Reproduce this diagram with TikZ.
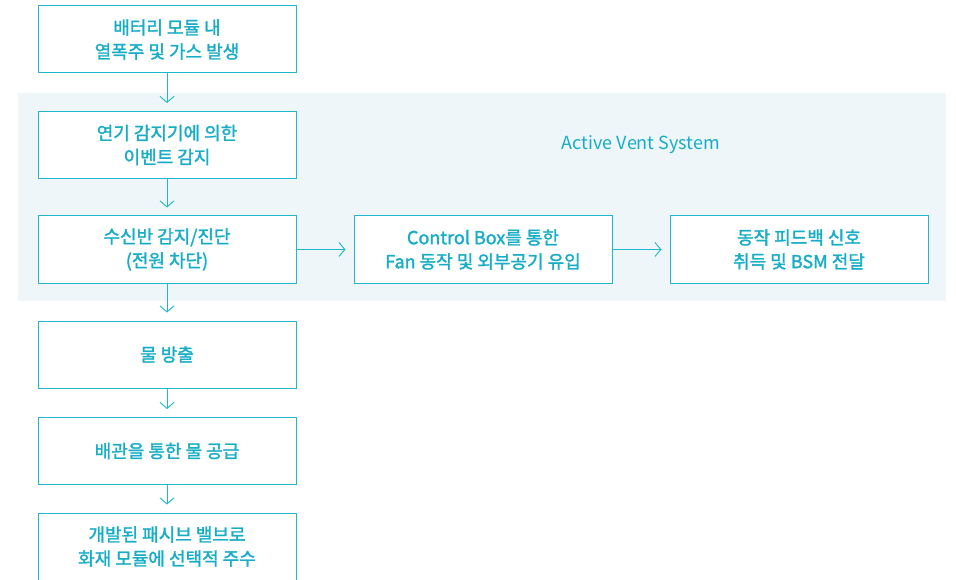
\documentclass[tikz,border=0pt]{standalone}
\usepackage{fontspec}
\setmainfont{Noto Sans CJK KR}
\newfontfamily\med[FakeBold=1.6]{Noto Sans CJK KR}
\usetikzlibrary{arrows.meta}
\definecolor{cyanline}{HTML}{1FB6CF}
\definecolor{cyantext}{HTML}{17ADC6}
\definecolor{panel}{HTML}{EEF6FA}
\tikzset{
  flowbox/.style={draw=cyanline, line width=1pt, fill=white, minimum width=258pt, minimum height=67pt,
    inner sep=0pt, align=center, text=cyantext, font=\med\fontsize{18}{24}\selectfont},
  flowarrow/.style={draw=cyanline, line width=0.9pt, -{Straight Barb[length=6pt,width=14pt,line width=0.9pt]}, shorten >=8pt},
}
\begin{document}
\begin{tikzpicture}[x=1pt,y=-1pt]
\useasboundingbox (0,0) rectangle (956,580);
\fill[panel] (18,93) rectangle (946,301);
\node[flowbox] (b1) at (167,39.5) {배터리 모듈 내\\열폭주 및 가스 발생};
\node[flowbox] (b2) at (167,145) {연기 감지기에 의한\\이벤트 감지};
\node[flowbox] (b3) at (167,249.5) {수신반 감지/진단\\(전원 차단)};
\node[flowbox] (b4) at (483,249.5) {Control Box를 통한\\Fan 동작 및 외부공기 유입};
\node[flowbox] (b5) at (799,249.5) {동작 피드백 신호\\취득 및 BSM 전달};
\node[flowbox] (b6) at (167,354.5) {물 방출};
\node[flowbox] (b7) at (167,451) {배관을 통한 물 공급};
\node[flowbox] (b8) at (167,546.5) {개발된 패시브 밸브로\\화재 모듈에 선택적 주수};
\node[text=cyantext, font=\fontsize{18}{20}\selectfont] (avs) at (641,145) {Active Vent System};
\draw[flowarrow] (b1) -- (b2);
\draw[flowarrow] (b2) -- (b3);
\draw[flowarrow] (b3) -- (b4);
\draw[flowarrow] (b4) -- (b5);
\draw[flowarrow] (b3) -- (b6);
\draw[flowarrow] (b6) -- (b7);
\draw[flowarrow] (b7) -- (b8);
\end{tikzpicture}
\end{document}
